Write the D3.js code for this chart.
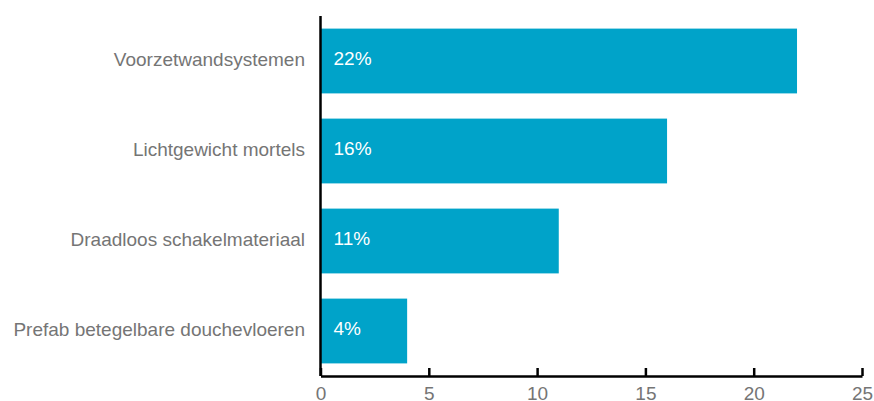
<!DOCTYPE html>
<html>
<head>
<meta charset="utf-8">
<script src="https://cdn.jsdelivr.net/npm/d3@7"></script>
<style>
  html, body { margin: 0; padding: 0; background: #fff; }
  svg text { font-family: "Liberation Sans", Arial, Helvetica, sans-serif; }
</style>
</head>
<body>
<svg id="chart" width="874" height="401"></svg>
<script>
// Share of respondents per product category
const categories = [
  "Voorzetwandsystemen",
  "Lichtgewicht mortels",
  "Draadloos schakelmateriaal",
  "Prefab betegelbare douchevloeren"
];
const values = [22, 16, 11, 4];
const valueLabels = ["22%", "16%", "11%", "4%"];
const xTicks = [0, 5, 10, 15, 20, 25];

const svg = d3.select("#chart");
const plotLeft = 320.5, plotRight = 862, plotTop = 16, plotBottom = 376;
const fontSize = 19;

const x = d3.scaleLinear().domain([0, 25]).range([plotLeft, plotRight]);
const y = d3.scaleBand().domain(categories).range([plotTop, plotBottom])
  .paddingInner(0.28).paddingOuter(0.14);

const barColor = "#00a3c9";
const textColor = "#757575";

// bars
svg.append("g").selectAll("rect")
  .data(values)
  .join("rect")
  .attr("x", x(0))
  .attr("y", (d, i) => y(categories[i]))
  .attr("width", d => x(d) - x(0))
  .attr("height", y.bandwidth())
  .attr("fill", barColor);

// value labels inside bars
svg.append("g").selectAll("text")
  .data(values)
  .join("text")
  .attr("x", x(0) + 13)
  .attr("y", (d, i) => y(categories[i]) + y.bandwidth() / 2)
  .attr("dy", "0.22em")
  .attr("fill", "#fff")
  .attr("font-size", fontSize)
  .text((d, i) => valueLabels[i]);

// category axis
const yAxis = svg.append("g")
  .attr("transform", `translate(${plotLeft},0)`)
  .call(d3.axisLeft(y).tickSize(0).tickPadding(15.5));
yAxis.select(".domain").attr("stroke", "#000").attr("stroke-width", 2.5)
  .attr("d", `M0,${plotTop}V${plotBottom}`);
yAxis.selectAll("text").attr("fill", textColor).attr("font-size", fontSize)
  .attr("dy", "0.24em");

// value axis
const xAxis = svg.append("g")
  .attr("transform", `translate(0,${plotBottom})`)
  .call(d3.axisBottom(x).tickValues(xTicks).tickSize(-8).tickSizeOuter(0).tickPadding(11));
xAxis.select(".domain").attr("stroke", "#000").attr("stroke-width", 2.5);
xAxis.selectAll(".tick line").attr("stroke", "#000").attr("stroke-width", 2.5);
xAxis.selectAll("text").attr("fill", textColor).attr("font-size", fontSize);
</script>
</body>
</html>
